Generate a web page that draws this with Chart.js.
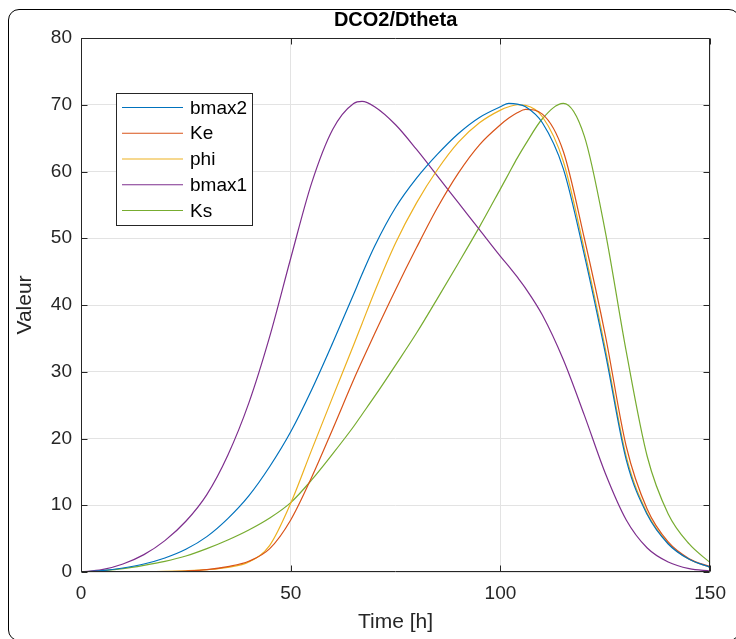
<!DOCTYPE html>
<html>
<head>
<meta charset="utf-8">
<script src="https://cdn.jsdelivr.net/npm/chart.js@4"></script>
<style>
  html, body { margin: 0; padding: 0; background: #fff; }
  #wrap { position: relative; width: 736px; height: 639px; overflow: hidden; background: #fff; }
  #frame { position: absolute; left: 8px; top: 9px; width: 732px; height: 632px; box-sizing: border-box;
           border: 1px solid #000; border-radius: 11px; pointer-events: none; }
  canvas { position: absolute; left: 0; top: 0; }
</style>
</head>
<body>
<div id="wrap">
  <canvas id="c" width="736" height="639"></canvas>
  <div id="frame"></div>
</div>
<script>
// ---- Data ----
const time = [0,5,10,15,20,25,30,35,40,45,50,55,60,65,67,70,75,80,85,90,95,100,102,104,106,110,115,120,125,130,135,140,145,150];

const bmax2 = [0,0.2,0.6,1.2,2.1,3.4,5.3,8.0,11.4,15.8,21.0,27.3,34.3,41.6,44.6,48.8,54.6,59.0,62.6,65.7,68.1,69.7,70.2,70.1,69.7,67.3,60.4,47.5,32.8,16.8,8.6,4.2,1.9,0.7];
const Ke    = [0,0,0,0,0.05,0.15,0.35,0.8,1.6,3.5,7.8,14.2,21.4,28.8,31.6,35.7,42.3,48.6,54.6,59.8,64.0,67.0,68.0,68.8,69.3,68.6,63.0,50.0,35.5,18.8,9.4,4.5,2.0,0.8];
const phi   = [0,0,0,0.03,0.08,0.18,0.35,0.7,1.5,4.0,10.3,18.3,26.2,34.0,37.2,42.0,49.3,55.3,60.3,64.4,67.3,69.2,69.7,70.0,69.9,68.2,61.5,48.3,33.5,17.3,8.8,4.3,1.9,0.7];
const bmax1 = [0,0.35,1.2,2.6,4.7,7.6,11.6,17.5,25.3,35.3,47.0,58.3,66.3,70.2,70.5,69.7,67.0,63.3,59.3,55.3,51.3,47.3,45.8,44.2,42.5,38.5,31.8,23.5,14.8,7.8,3.6,1.5,0.5,0.15];
const Ks    = [0,0.2,0.5,1.0,1.6,2.4,3.5,4.8,6.3,8.1,10.4,13.8,17.7,21.8,23.6,26.3,31.0,35.8,41.0,46.3,51.7,57.4,59.7,62.0,64.1,67.9,70.2,65.3,51.0,33.0,17.3,8.7,4.2,1.4];

const seriesNames = ['bmax2','Ke','phi','bmax1','Ks'];
const seriesValues = [bmax2, Ke, phi, bmax1, Ks];
const seriesColors = ['#0072BD','#D95319','#EDB120','#7E2F8E','#77AC30'];

const xTicks = [0,50,100,150];
const yTicks = [0,10,20,30,40,50,60,70,80];
const chartTitle = 'DCO2/Dtheta';
const xLabel = 'Time [h]';
const yLabel = 'Valeur';

const FONT = '"Liberation Sans", Arial, Helvetica, sans-serif';
const AXIS = '#262626';

const datasets = seriesNames.map((name, k) => ({
  label: name,
  data: time.map((t, i) => ({ x: t, y: seriesValues[k][i] })),
  borderColor: seriesColors[k],
  backgroundColor: seriesColors[k],
  borderWidth: 1.2,
  pointRadius: 0,
  fill: false,
  cubicInterpolationMode: 'monotone'
}));

const matlabAxes = {
  id: 'matlabAxes',
  afterDatasetsDraw(chart) {
    const { ctx, chartArea: a, scales: { x, y } } = chart;
    ctx.save();
    ctx.strokeStyle = AXIS;
    ctx.lineWidth = 1;
    const L = Math.round(a.left) + 0.5, R = Math.round(a.right) - 0.5;
    const T = Math.round(a.top) + 0.5, B = Math.round(a.bottom) - 0.5;
    ctx.beginPath();
    ctx.rect(L, T, R - L, B - T);
    const tl = 6;
    yTicks.forEach(v => {
      const py = Math.round(y.getPixelForValue(v)) + 0.5;
      ctx.moveTo(L, py); ctx.lineTo(L + tl, py);
      ctx.moveTo(R, py); ctx.lineTo(R - tl, py);
    });
    xTicks.forEach(v => {
      const px = Math.round(x.getPixelForValue(v)) + 0.5;
      ctx.moveTo(px, B); ctx.lineTo(px, B - tl);
      ctx.moveTo(px, T); ctx.lineTo(px, T + tl);
    });
    ctx.stroke();

    // Title centred over the plot area
    ctx.fillStyle = '#000';
    ctx.font = 'bold 20px ' + FONT;
    ctx.textAlign = 'center';
    ctx.textBaseline = 'alphabetic';
    ctx.fillText(chartTitle, (a.left + a.right) / 2, 26);

    // Legend box (inside the axes, upper left)
    const bx = 116.5, by = 93.5, bw = 136, bh = 132;
    ctx.fillStyle = '#fff';
    ctx.fillRect(bx, by, bw, bh);
    ctx.strokeStyle = AXIS;
    ctx.strokeRect(bx, by, bw, bh);
    ctx.font = '19px ' + FONT;
    ctx.textAlign = 'left';
    ctx.textBaseline = 'middle';
    chart.data.datasets.forEach((ds, i) => {
      const ry = 107.5 + i * 25.75;
      ctx.strokeStyle = ds.borderColor;
      ctx.lineWidth = 1.2;
      ctx.beginPath();
      ctx.moveTo(122, ry); ctx.lineTo(183, ry);
      ctx.stroke();
      ctx.fillStyle = '#000';
      ctx.fillText(ds.label, 190, ry + 1);
    });
    ctx.restore();
  }
};

new Chart(document.getElementById('c'), {
  type: 'line',
  data: { datasets },
  options: {
    responsive: false,
    animation: false,
    devicePixelRatio: 1,
    layout: { padding: { left: 0, right: 17, top: 38, bottom: 0 } },
    plugins: { legend: { display: false }, title: { display: false }, tooltip: { enabled: false } },
    scales: {
      x: {
        type: 'linear', min: 0, max: 150,
        afterBuildTicks: s => { s.ticks = xTicks.map(v => ({ value: v })); },
        ticks: { color: AXIS, font: { family: FONT, size: 19 }, padding: 10, maxRotation: 0 },
        grid: { color: '#e3e3e3', lineWidth: 1, drawTicks: false },
        border: { display: false },
        title: { display: true, text: xLabel, color: AXIS, font: { family: FONT, size: 21 }, padding: { top: 0, bottom: 4 } },
        afterFit: s => { s.height = 67; }
      },
      y: {
        type: 'linear', min: 0, max: 80,
        afterBuildTicks: s => { s.ticks = yTicks.map(v => ({ value: v })); },
        ticks: { color: AXIS, font: { family: FONT, size: 19 }, padding: 9 },
        grid: { color: '#e3e3e3', lineWidth: 1, drawTicks: false },
        border: { display: false },
        title: { display: true, text: yLabel, color: AXIS, font: { family: FONT, size: 21 }, padding: { top: 13, bottom: 0 } },
        afterFit: s => { s.width = 81; }
      }
    }
  },
  plugins: [matlabAxes]
});
</script>
</body>
</html>
